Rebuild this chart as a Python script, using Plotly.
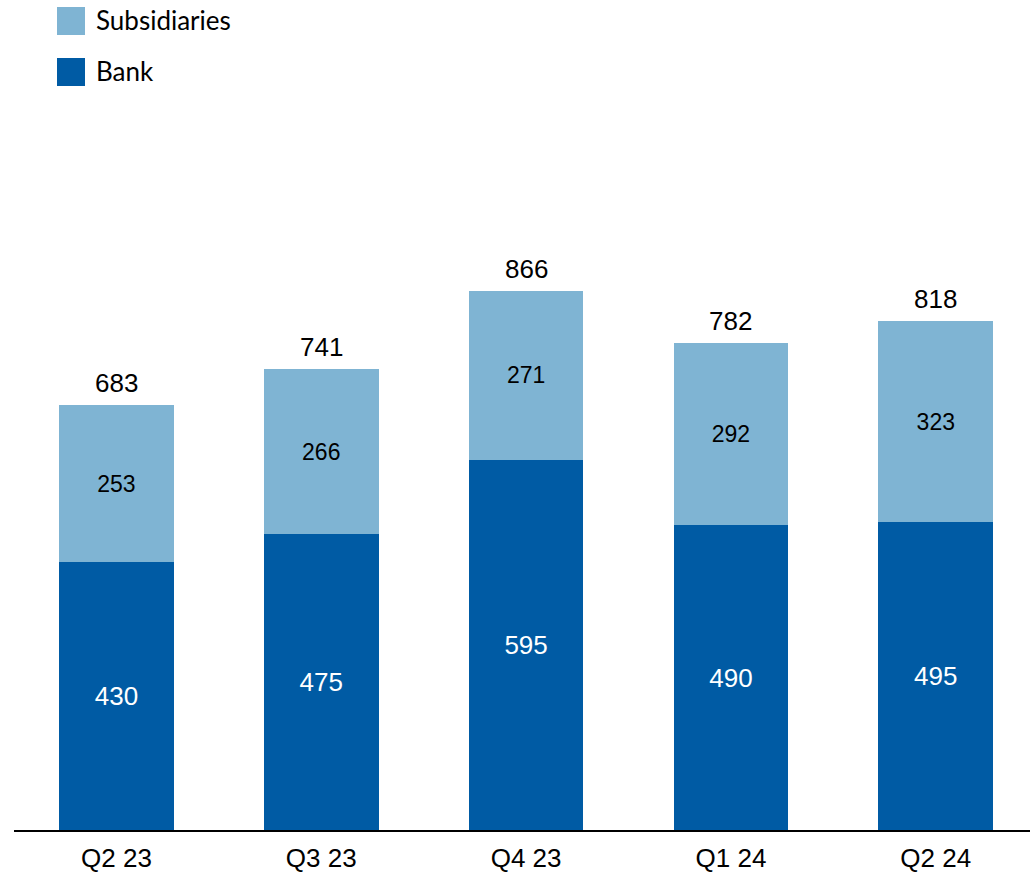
import plotly.graph_objects as go

quarters = ["Q2 23", "Q3 23", "Q4 23", "Q1 24", "Q2 24"]
bank = [430, 475, 595, 490, 495]
subsidiaries = [253, 266, 271, 292, 323]
totals = [683, 741, 866, 782, 818]

BANK_COLOR = "#005BA4"
SUBS_COLOR = "#7FB4D3"
NUM_FONT = "Liberation Sans, Arial, sans-serif"
LEG_FONT = "Lato, Open Sans, sans-serif"

W, H = 1030, 875
ML, MR, MT, MB = 14, 0, 0, 45
plot_w = W - ML - MR
plot_h = H - MT - MB

fig = go.Figure()
fig.add_trace(go.Bar(
    x=quarters, y=bank, name="Bank", marker=dict(color=BANK_COLOR, line=dict(width=0)),
    text=[str(v) for v in bank], textposition="inside", insidetextanchor="middle",
    textfont=dict(color="white", size=26, family=NUM_FONT), width=0.56,
    showlegend=False,
))
fig.add_trace(go.Bar(
    x=quarters, y=subsidiaries, name="Subsidiaries", marker=dict(color=SUBS_COLOR, line=dict(width=0)),
    text=[str(v) for v in subsidiaries], textposition="inside", insidetextanchor="middle",
    textfont=dict(color="black", size=23, family=NUM_FONT), width=0.56,
    showlegend=False,
))

annotations = []
for q, t in zip(quarters, totals):
    annotations.append(dict(
        x=q, y=t, xref="x", yref="y", text=str(t), showarrow=False,
        yanchor="bottom", yshift=5, font=dict(size=26, color="black", family=NUM_FONT),
    ))

# Legend drawn as swatches + labels in pixel-derived paper coordinates
def px_x(px):
    return (px - ML) / plot_w

def px_y(py):
    return (H - MB - py) / plot_h

shapes = []
legend_items = [("Subsidiaries", SUBS_COLOR, 7), ("Bank", BANK_COLOR, 58)]
for label, color, top in legend_items:
    shapes.append(dict(
        type="rect", xref="paper", yref="paper",
        x0=px_x(57), x1=px_x(85), y0=px_y(top + 28), y1=px_y(top),
        fillcolor=color, line=dict(width=0),
    ))
    annotations.append(dict(
        x=px_x(94), y=px_y(top + 13), xref="paper", yref="paper", text=label,
        showarrow=False, xanchor="left", yanchor="middle",
        font=dict(size=26, color="black", family=LEG_FONT),
    ))

fig.update_layout(
    width=W, height=H,
    margin=dict(l=ML, r=MR, t=MT, b=MB),
    barmode="stack",
    plot_bgcolor="white", paper_bgcolor="white",
    showlegend=False,
    annotations=annotations,
    shapes=shapes,
    xaxis=dict(
        range=[-0.5, 4.46], showline=True, linecolor="black", linewidth=2,
        showgrid=False, ticks="", tickfont=dict(size=26, color="black", family=NUM_FONT),
        ticklabelstandoff=4, fixedrange=True,
    ),
    yaxis=dict(range=[0, 1334], visible=False, showgrid=False, fixedrange=True),
)

fig.write_html("out.html")
